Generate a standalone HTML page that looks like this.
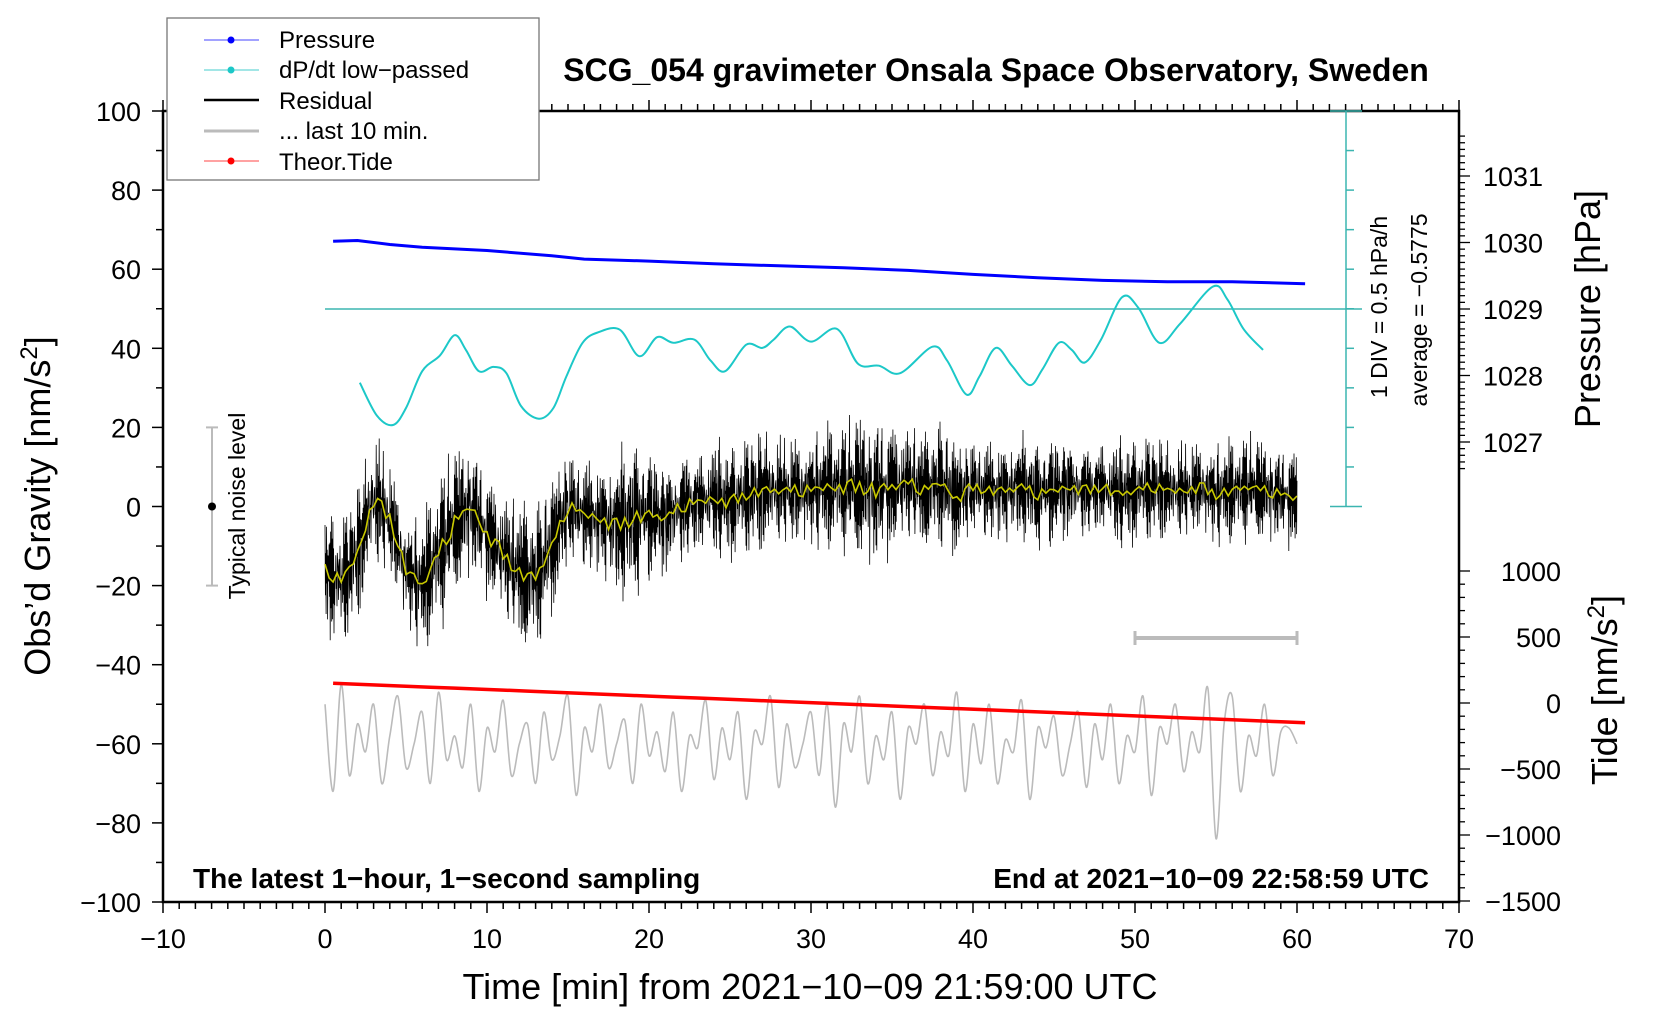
<!DOCTYPE html>
<html><head><meta charset="utf-8"><style>
html,body{margin:0;padding:0;background:#fff}
svg{display:block;font-family:"Liberation Sans",sans-serif}
</style></head><body>
<svg id="c" width="1660" height="1020" viewBox="0 0 1660 1020">
<g id="layer"></g>
</svg>
<script>
// ---- data ----
const xTicks=[-10,0,10,20,30,40,50,60,70];
const yTicks=[100,80,60,40,20,0,-20,-40,-60,-80,-100];
const pTicks=[1031,1030,1029,1028,1027];
const tideTicks=[1000,500,0,-500,-1000,-1500];
const pressMin=[0.5,2,4,6,10,14,16,20,24,28,32,36,40,44,48,52,56,60.5];
const pressVal=[1030.02,1030.03,1029.97,1029.93,1029.88,1029.80,1029.75,1029.72,1029.68,1029.65,1029.62,1029.58,1029.52,1029.47,1029.43,1029.41,1029.41,1029.38];
const dpMin=[2.15,3.2,4.2,5.0,6.0,7.1,8.0,8.7,9.5,10.4,11.2,12.1,13.2,14.1,14.9,15.9,16.9,18.2,19.4,20.5,21.5,22.8,23.8,24.7,26.0,27.0,27.7,28.7,30.0,31.6,32.9,34.2,35.5,37.5,38.4,39.6,40.4,41.4,42.4,43.5,44.3,45.3,46.1,46.9,47.9,49.2,50.2,51.5,52.8,54.8,55.7,56.7,57.9];
const dpVal=[31.3,23.0,20.6,24.9,34.2,38.2,43.3,39.6,34.2,35.3,33.7,25.4,22.2,24.9,32.9,41.4,44.1,44.7,38.0,42.8,41.4,42.2,36.9,34.2,40.9,40.1,42.2,45.5,41.7,44.9,36.1,35.6,33.7,40.4,36.9,28.3,32.9,40.1,35.6,30.7,34.8,41.4,39.6,36.4,42.2,52.9,50.3,41.4,46.3,55.6,52.4,44.9,39.6];
const resMean=[-16,-19,-12,2,-3,-16,-20,-12,-4,0,-7,-12,-17,-18,-10,0,-2,-3,-5,-3,-2,-3,0,1,2,1,3,4,4,4,4,5,5,5,4,5,6,4,6,2,5,4,4,5,3,4,5,4,5,3,4,5,4,4,5,3,4,5,4,3,2];
const resAmp=[12,12,13,14,12,11,13,15,14,14,13,13,14,14,12,12,11,12,14,15,12,11,12,11,12,11,11,12,11,12,11,12,12,14,16,14,12,11,12,10,10,10,11,10,10,10,10,10,10,11,10,10,10,10,10,10,10,10,10,10,11];
const resPattern=[1,-0.6,0.3,-1,0.8,-0.2,0.5,-0.9,0.1,0.7,-0.4,1.2,-0.7,0.2,-1.1,0.6,-0.3,0.9,-0.8,0.4,-0.5,1,-0.2,0.3,-0.9,0.7,-1.2,0.5,-0.1];
const resPattern2=[0.35,-0.75,0.9,-0.15,0.55,-1.05,0.25,-0.45,0.8,-0.3,0.1,-0.9,0.6,-0.5,1.0,-0.2,0.4,-0.7,0.15,-0.35,0.85,-0.6,0.3,-1.0,0.5,-0.1,0.7,-0.4,0.95,-0.8,0.2,-0.25,0.65,-0.55,0.45,-0.95,0.05];
const last10=[-50,-72,-45,-68,-55,-62,-50,-70,-58,-48,-66,-60,-52,-70,-47,-64,-58,-66,-50,-72,-56,-62,-49,-68,-60,-55,-70,-52,-64,-58,-48,-73,-56,-62,-50,-66,-60,-54,-70,-50,-63,-57,-67,-52,-72,-58,-61,-49,-69,-56,-64,-52,-74,-57,-60,-48,-71,-55,-66,-60,-52,-68,-50,-76,-55,-62,-48,-70,-58,-64,-52,-74,-56,-60,-50,-68,-57,-63,-47,-72,-55,-65,-50,-70,-59,-62,-49,-74,-56,-61,-53,-68,-60,-52,-71,-55,-64,-50,-70,-58,-62,-48,-73,-56,-60,-50,-67,-57,-62,-46,-84,-55,-48,-72,-58,-63,-50,-68,-57,-56,-60];
const tideMin=[0.5,60.5];
const tideVal=[150,-150];

// ---- axes ----
const X=m=>325+m*16.2;
const Y=v=>506.5-v*3.955;
const YP=p=>309-(p-1029)*66.5;
const YT=t=>703-t*0.132;
const L=163,R=1459,T=111,B=902;
const NS="http://www.w3.org/2000/svg";
const g=document.getElementById('layer');
function el(tag,attrs,parent){const e=document.createElementNS(NS,tag);for(const k in attrs)e.setAttribute(k,attrs[k]);(parent||g).appendChild(e);return e;}
function txt(s,attrs,parent){const e=el('text',attrs,parent);e.textContent=s;return e;}
function pathOf(xs,ys){return xs.map((x,i)=>(i?'L':'M')+x.toFixed(1)+','+ys[i].toFixed(1)).join('');}
function smooth(px,py){let d='M'+px[0]+','+py[0];for(let i=0;i<px.length-1;i++){const x0=px[Math.max(i-1,0)],y0=py[Math.max(i-1,0)],x1=px[i],y1=py[i],x2=px[i+1],y2=py[i+1],x3=px[Math.min(i+2,px.length-1)],y3=py[Math.min(i+2,px.length-1)];d+='C'+(x1+(x2-x0)/6).toFixed(1)+','+(y1+(y2-y0)/6).toFixed(1)+' '+(x2-(x3-x1)/6).toFixed(1)+','+(y2-(y3-y1)/6).toFixed(1)+' '+x2.toFixed(1)+','+y2.toFixed(1);}return d;}

const frame=el('rect',{x:L,y:T,width:R-L,height:B-T,fill:'none',stroke:'#000','stroke-width':2.5});


for(let m=-10;m<=70;m++){const big=m%10===0;
 el('line',{x1:X(m),x2:X(m),y1:B,y2:B+(big?11:7),stroke:'#000','stroke-width':1.5});
 el('line',{x1:X(m),x2:X(m),y1:T,y2:T-(big?11:7),stroke:'#000','stroke-width':1.5});}
xTicks.forEach(v=>{const t=txt(v<0?'\u2212'+(-v):String(v),{x:X(v),y:948,'font-size':27,'text-anchor':'middle'});
 });
for(let v=-100;v<=100;v+=10){const big=v%20===0;el('line',{x1:L,x2:L-(big?11:7),y1:Y(v),y2:Y(v),stroke:'#000','stroke-width':1.5});}
yTicks.forEach(v=>{const t=txt(v<0?'\u2212'+(-v):String(v),{x:141,y:Y(v)+10,'font-size':27,'text-anchor':'end'});
 });
for(let p=1026.6;p<=1031.6;p+=0.1){const pr=Math.round(p*10)/10;if(YP(pr)<T||YP(pr)>B)continue;
 const big=Math.abs(pr-Math.round(pr))<0.01;el('line',{x1:R,x2:R+(big?11:6),y1:YP(pr),y2:YP(pr),stroke:'#000','stroke-width':1.3});}
pTicks.forEach(v=>{const t=txt(String(v),{x:1483,y:YP(v)+10,'font-size':27});
 });
for(let tv=-1500;tv<=1000;tv+=100){const big=tv%500===0;el('line',{x1:R,x2:R+(big?11:6),y1:YT(tv),y2:YT(tv),stroke:'#000','stroke-width':1.3});}
tideTicks.forEach(v=>{const t=txt(v<0?'\u2212'+(-v):String(v),{x:1561,y:YT(v)+10,'font-size':27,'text-anchor':'end'});
 });

const sb=el('g',{stroke:'#3bb5b0','stroke-width':1.5});

el('line',{x1:1346,x2:1346,y1:T,y2:Y(0)},sb);
for(let i=0;i<=10;i++){const yy=T+(Y(0)-T)*i/10;const w=(i===0||i===10)?16:8;el('line',{x1:1346-(i===0||i===10?16:0),x2:1346+w,y1:yy,y2:yy},sb);}
el('line',{x1:X(0),x2:1362,y1:YP(1029),y2:YP(1029)},sb);

const nb=el('g',{stroke:'#bbb','stroke-width':2});

el('line',{x1:212,x2:212,y1:Y(20),y2:Y(-20)},nb);el('line',{x1:206,x2:218,y1:Y(20),y2:Y(20)},nb);el('line',{x1:206,x2:218,y1:Y(-20),y2:Y(-20)},nb);
el('circle',{cx:212,cy:Y(0),r:4,fill:'#000',stroke:'none'});
const lb=el('g',{stroke:'#bbb','stroke-width':4});

el('line',{x1:X(50),x2:X(60),y1:638,y2:638},lb);
el('line',{x1:X(50),x2:X(50),y1:631,y2:645,'stroke-width':3},lb);el('line',{x1:X(60),x2:X(60),y1:631,y2:645,'stroke-width':3},lb);

const n=last10.length;
const gp=el('path',{d:smooth(last10.map((v,i)=>X(60*i/(n-1))),last10.map(v=>Y(v))),fill:'none',stroke:'#bbb','stroke-width':1.6});


const tx=[],ty=[];for(let k=0;k<=40;k++){const m=tideMin[0]+(tideMin[1]-tideMin[0])*k/40;tx.push(X(m));ty.push(YT(tideVal[0]+(tideVal[1]-tideVal[0])*k/40));}
const tp=el('path',{d:pathOf(tx,ty),fill:'none',stroke:'#f00','stroke-width':3.5});


function interp(arr,m){const i=Math.min(Math.floor(m),arr.length-2);const f=m-i;return arr[i]*(1-f)+arr[i+1]*f;}
const rx=[],ry=[];const N=2600;
for(let i=0;i<=N;i++){const m=60*i/N;rx.push(X(m));ry.push(Y(interp(resMean,m)+interp(resAmp,m)*(0.75*resPattern[i%resPattern.length]+0.55*resPattern2[(i*3)%resPattern2.length])));}
const rp=el('path',{d:pathOf(rx,ry),fill:'none',stroke:'#000','stroke-width':0.8});

const mx=[],my=[];for(let i=0;i<=240;i++){const m=60*i/240;mx.push(X(m));my.push(Y(interp(resMean,m)+0.12*interp(resAmp,m)*resPattern[(i*7)%resPattern.length]));}
const yp=el('path',{d:pathOf(mx,my),fill:'none',stroke:'#c8c800','stroke-width':1.6});


const px=[],py=[];for(let i=0;i<pressMin.length;i++){px.push(X(pressMin[i]));py.push(YP(pressVal[i]));}
const pp=el('path',{d:pathOf(px,py),fill:'none',stroke:'#00f','stroke-width':3});


const dp=el('path',{d:smooth(dpMin.map(X),dpVal.map(Y)),fill:'none',stroke:'#1cc8c8','stroke-width':2});

</script>
<svg width="1660" height="1020" style="position:absolute;left:0;top:0">
<g font-family="Liberation Sans, sans-serif">
<rect x="167" y="18" width="372" height="162" fill="#fff" stroke="#777" stroke-width="1.3"/>
<g><line x1="204" x2="259" y1="40" y2="40" stroke="#44f"/><circle cx="231" cy="40" r="3.5" fill="#00f"/><text x="279" y="48" font-size="24">Pressure</text></g>
<g><line x1="204" x2="259" y1="70" y2="70" stroke="#4cc"/><circle cx="231" cy="70" r="3.5" fill="#1cc8c8"/><text x="279" y="78" font-size="24">dP/dt low−passed</text></g>
<g><line x1="204" x2="259" y1="100" y2="100" stroke="#000" stroke-width="2.5"/><text x="279" y="109" font-size="24">Residual</text></g>
<g><line x1="204" x2="259" y1="131" y2="131" stroke="#bbb" stroke-width="3"/><text x="279" y="139" font-size="24">... last 10 min.</text></g>
<g><line x1="204" x2="259" y1="161" y2="161" stroke="#f44"/><circle cx="231" cy="161" r="3.5" fill="#f00"/><text x="279" y="170" font-size="24">Theor.Tide</text></g>
<text x="996" y="81" font-size="32" font-weight="bold" text-anchor="middle">SCG_054 gravimeter Onsala Space Observatory, Sweden</text>
<text x="193" y="888" font-size="28" font-weight="bold">The latest 1−hour, 1−second sampling</text>
<text x="1429" y="888" font-size="28" font-weight="bold" text-anchor="end">End at 2021−10−09 22:58:59 UTC</text>
<text x="810" y="999" font-size="36" text-anchor="middle">Time [min] from 2021−10−09 21:59:00 UTC</text>
<text transform="translate(50,506) rotate(-90)" font-size="36" text-anchor="middle">Obs’d Gravity [nm/s<tspan font-size="24" dy="-13">2</tspan><tspan dy="13">]</tspan></text>
<text transform="translate(245,506) rotate(-90)" font-size="23" text-anchor="middle">Typical noise level</text>
<text transform="translate(1387,307) rotate(-90)" font-size="23" text-anchor="middle">1 DIV = 0.5 hPa/h</text>
<text transform="translate(1427,310) rotate(-90)" font-size="23" text-anchor="middle">average = −0.5775</text>
<text transform="translate(1600,309) rotate(-90)" font-size="36" text-anchor="middle">Pressure [hPa]</text>
<text transform="translate(1617,690) rotate(-90)" font-size="36" text-anchor="middle">Tide [nm/s<tspan font-size="24" dy="-13">2</tspan><tspan dy="13">]</tspan></text>
</g>
</svg>
</body></html>
